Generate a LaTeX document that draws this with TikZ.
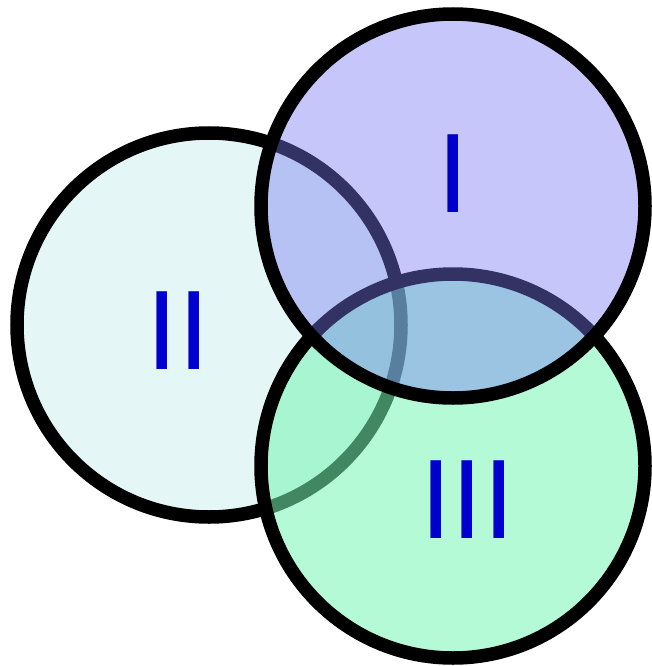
\documentclass[tikz,border=0pt]{standalone}
\usepackage{fontspec}
\setmainfont{Liberation Sans}
\definecolor{ringII}{RGB}{228,246,246}
\definecolor{ringI}{RGB}{120,120,242}
\definecolor{ringIII}{RGB}{120,246,180}
\definecolor{numeral}{RGB}{0,0,204}
\begin{document}
\begin{tikzpicture}[x=1pt,y=-1pt,
  ring/.style={draw=black,line width=13.5pt},
  numlabel/.style={inner sep=0pt,anchor=base,text=numeral,
    font=\fontsize{113}{113}\selectfont}]
  \useasboundingbox (0,0) rectangle (651,666);
  % set II underneath, opaque
  \fill[ringII] (209,325) circle (192);
  \draw[ring] (209,325) circle (192);
  % set III, translucent
  \fill[ringIII,fill opacity=0.55] (453,466) circle (192);
  \draw[ring] (453,466) circle (192);
  % set I on top, translucent
  \fill[ringI,fill opacity=0.42] (453,206) circle (192);
  \draw[ring] (453,206) circle (192);
  % labels
  \node[numlabel] (lI) at (453.5,212) {I};
  \node[numlabel] (lII) at (178,369) {II};
  \node[numlabel] (lIII) at (467.5,538) {III};
\end{tikzpicture}
\end{document}
